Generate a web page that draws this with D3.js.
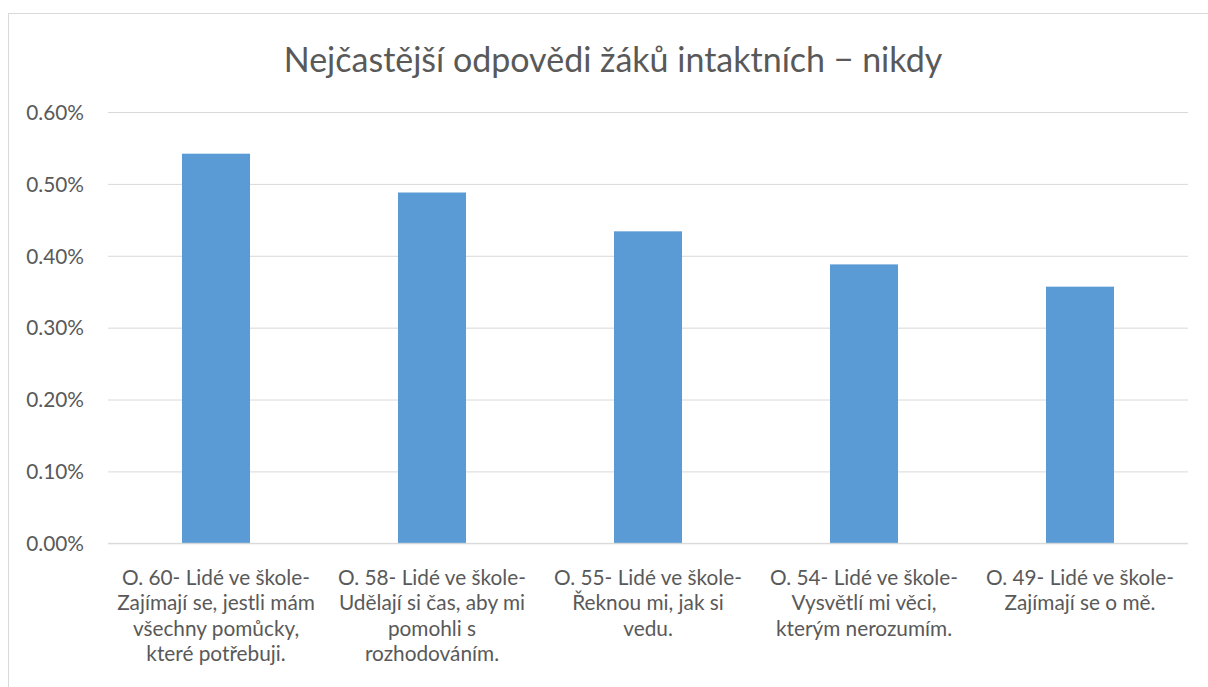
<!DOCTYPE html>
<html>
<head>
<meta charset="utf-8">
<script src="https://cdn.jsdelivr.net/npm/d3@7/dist/d3.min.js"></script>
<style>
  html, body { margin: 0; padding: 0; background: #fff; }
  svg { display: block; font-family: Lato, "Open Sans", sans-serif; }
</style>
</head>
<body>
<svg id="chart" width="1208" height="687"></svg>
<script>
const title = "Nejčastější odpovědi žáků intaktních − nikdy";
const categories = [
  "O. 60- Lidé ve škole-\nZajímají se, jestli mám\nvšechny pomůcky,\nkteré potřebuji.",
  "O. 58- Lidé ve škole-\nUdělají si čas, aby mi\npomohli s\nrozhodováním.",
  "O. 55- Lidé ve škole-\nŘeknou mi, jak si\nvedu.",
  "O. 54- Lidé ve škole-\nVysvětlí mi věci,\nkterým nerozumím.",
  "O. 49- Lidé ve škole-\nZajímají se o mě."
];
const values = [0.00542, 0.00488, 0.00434, 0.00388, 0.00357];
const yTicks = [0, 0.001, 0.002, 0.003, 0.004, 0.005, 0.006];

const svg = d3.select("#chart");
const W = 1208, H = 687;
const plot = { left: 108, right: 1188, top: 112, bottom: 543.3 };

// chart area border
svg.append("rect")
  .attr("x", 8.5).attr("y", 13.5)
  .attr("width", W + 20).attr("height", H + 20)
  .attr("fill", "#fff").attr("stroke", "#d9d9d9").attr("stroke-width", 1);

const x = d3.scaleBand()
  .domain(d3.range(categories.length))
  .range([plot.left, plot.right])
  .paddingInner(0.685)
  .paddingOuter(0.3425);

const y = d3.scaleLinear()
  .domain([0, 0.006])
  .range([plot.bottom, plot.top]);

// gridlines
const yAxis = d3.axisLeft(y)
  .tickValues(yTicks)
  .tickSize(-(plot.right - plot.left))
  .tickPadding(24)
  .tickFormat(d3.format(".2%"));

const gy = svg.append("g")
  .attr("transform", `translate(${plot.left},0)`)
  .call(yAxis)
  .attr("font-family", null)
  .attr("font-size", null);
gy.select(".domain").remove();
gy.selectAll(".tick line").attr("stroke", "#d9d9d9").attr("stroke-width", 1);
gy.selectAll(".tick text")
  .attr("fill", "#595959")
  .style("font-size", "20.8px")
  .attr("dy", "0.35em");

// bars
svg.append("g").selectAll("rect")
  .data(values)
  .join("rect")
  .attr("x", (d, i) => x(i))
  .attr("width", x.bandwidth())
  .attr("y", d => y(d))
  .attr("height", d => y(0) - y(d))
  .attr("fill", "#5b9bd5");

// baseline axis
svg.append("line")
  .attr("x1", plot.left).attr("x2", plot.right)
  .attr("y1", y(0)).attr("y2", y(0))
  .attr("stroke", "#d9d9d9").attr("stroke-width", 1);

// category labels
const lab = svg.append("g").selectAll("text")
  .data(categories)
  .join("text")
  .attr("text-anchor", "middle")
  .attr("fill", "#595959")
  .style("font-size", "20.8px")
  .attr("transform", (d, i) => `translate(${x(i) + x.bandwidth() / 2},${plot.bottom + 42})`);
lab.each(function (d) {
  const t = d3.select(this);
  d.split("\n").forEach((line, k) => {
    t.append("tspan").attr("x", 0).attr("y", k * 25.2).text(line);
  });
});

// title
svg.append("text")
  .attr("x", 613).attr("y", 72)
  .attr("text-anchor", "middle")
  .attr("fill", "#595959")
  .style("font-size", "34px")
  .text(title);
</script>
</body>
</html>
